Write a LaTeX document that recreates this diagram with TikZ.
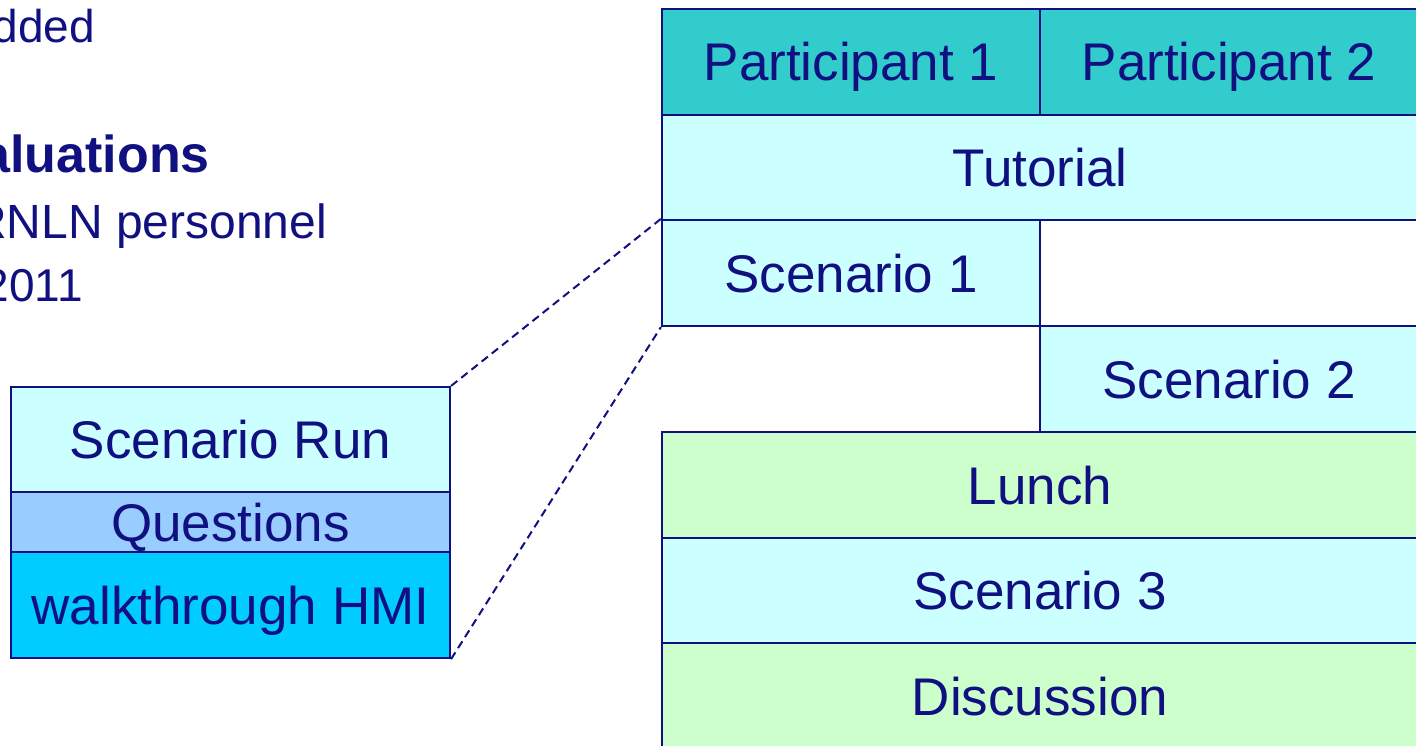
\documentclass[tikz,border=0pt]{standalone}
\usepackage{fontspec}
\setmainfont{Liberation Sans}
\definecolor{navy}{RGB}{16,16,128}
\definecolor{teal1}{RGB}{51,204,204}
\definecolor{lcyan}{RGB}{204,255,255}
\definecolor{lgreen}{RGB}{204,255,204}
\definecolor{qblue}{RGB}{153,204,255}
\definecolor{wblue}{RGB}{0,204,255}
\begin{document}
\begin{tikzpicture}[x=1pt,y=-1pt,
  cell/.style={draw=navy, line width=2.2pt, text=navy, inner sep=0pt,
    font=\fontsize{53}{60}\selectfont, text height=38pt, text depth=0pt},
  body/.style={text=navy, inner sep=0pt, font=\fontsize{48}{56}\selectfont},
  zoomline/.style={draw=navy, line width=2pt, dash pattern=on 8pt off 5pt}]
\useasboundingbox (0,0) rectangle (1416,746);
\clip (0,0) rectangle (1416,746);
\fill[white] (0,0) rectangle (1416,746);
% top-left text
\node[body, anchor=base east, font=\fontsize{46}{54}\selectfont] (t1) at (95,42.7) {dded};
\node[body, anchor=base east, font=\fontsize{52}{60}\selectfont\bfseries] (t2) at (210,173) {aluations};
\node[body, anchor=base west] (t3) at (-28,238.5) {RNLN personnel};
\node[body, anchor=base west, font=\fontsize{46}{54}\selectfont] (t4) at (-16.5,301.7) {2011};
% right table
\node[cell, fill=teal1, minimum width=378pt, minimum height=106pt] (p1) at (851,62) {Participant 1};
\node[cell, fill=teal1, minimum width=378pt, minimum height=106pt] (p2) at (1229,62) {Participant 2};
\node[cell, fill=lcyan, minimum width=756pt, minimum height=105pt] (tut) at (1040,167.5) {Tutorial};
\node[cell, fill=lcyan, minimum width=378pt, minimum height=106pt] (s1) at (851,273) {Scenario 1};
\node[cell, fill=white, minimum width=378pt, minimum height=106pt] (e1) at (1229,273) {};
\node[cell, fill=lcyan, minimum width=378pt, minimum height=106pt] (s2) at (1229,379) {Scenario 2};
\node[cell, fill=lgreen, minimum width=756pt, minimum height=106pt] (lun) at (1040,485) {Lunch};
\node[cell, fill=lcyan, minimum width=756pt, minimum height=105pt] (s3) at (1040,590.5) {Scenario 3};
\node[cell, fill=lgreen, minimum width=756pt, minimum height=106pt] (dis) at (1040,696) {Discussion};
% left box
\node[cell, fill=lcyan, minimum width=439pt, minimum height=105pt] (sr) at (230.5,439.5) {Scenario Run};
\node[cell, fill=qblue, minimum width=439pt, minimum height=60pt] (qu) at (230.5,522) {Questions};
\node[cell, fill=wblue, minimum width=439pt, minimum height=106pt] (wh) at (230.5,605) {walkthrough HMI};
% zoom lines
\draw[zoomline] (sr.north east) -- (s1.north west);
\draw[zoomline] (wh.south east) -- (s1.south west);
\end{tikzpicture}
\end{document}
